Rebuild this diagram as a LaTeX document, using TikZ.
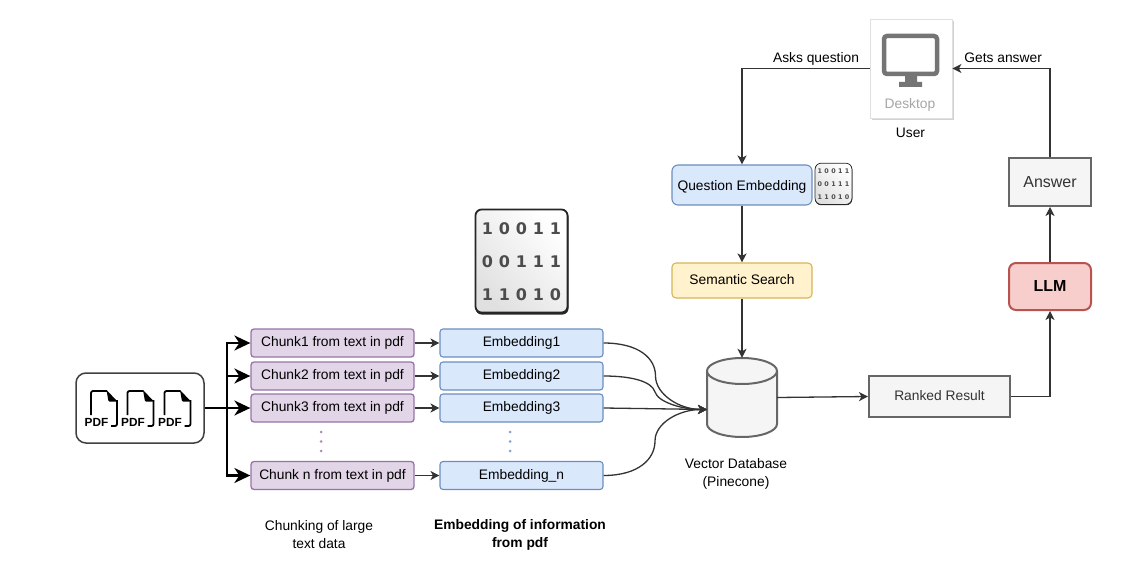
\documentclass[tikz,border=0pt]{standalone}
\usepackage{fontspec}
\setmainfont{Liberation Sans}
\newfontfamily\binfont[LetterSpace=36.6,BoldFont={DejaVu Sans Bold}]{DejaVu Sans}
\usetikzlibrary{arrows.meta,positioning,shadows}

\definecolor{chunkfill}{HTML}{E1D5E7}
\definecolor{chunkline}{HTML}{9673A6}
\definecolor{embfill}{HTML}{DAE8FC}
\definecolor{embline}{HTML}{6C8EBF}
\definecolor{searchfill}{HTML}{FFF2CC}
\definecolor{searchline}{HTML}{D6B656}
\definecolor{llmfill}{HTML}{F8CECC}
\definecolor{llmline}{HTML}{B85450}
\definecolor{grayfill}{HTML}{F5F5F5}
\definecolor{grayline}{HTML}{666666}

\tikzset{
	base/.style={font=\fontsize{13.8}{18}\selectfont,text=black,inner sep=0pt},
	chunkbox/.style={base,draw=chunkline,fill=chunkfill,line width=1.3pt,rounded corners=3pt,minimum width=163pt,minimum height=28pt},
	embbox/.style={base,draw=embline,fill=embfill,line width=1.1pt,rounded corners=3pt,minimum width=163pt,minimum height=28pt},
	plainbox/.style={base,draw=grayline,fill=grayfill,text=black!80,line width=2pt},
	linklabel/.style={base,text height=10pt,text depth=3pt},
	link/.style={line width=1.3pt,draw=black!80,-{Stealth[length=9pt,width=9pt,inset=2.5pt]}},
	fatlink/.style={line width=2.2pt,draw=black,-{Stealth[length=16pt,width=15pt,inset=5pt]}},
	bindigits/.style={font=\binfont\bfseries\fontsize{16}{16}\selectfont,text=black!70,inner sep=0pt,transform shape},
	pics/binicon/.style={code={
		\fill[black!85,rounded corners=6pt] (-46,-51) rectangle (47,53);
		\shade[left color=white,right color=black!12,shading angle=-45,draw=black!85,line width=#1*1.8pt,rounded corners=6pt] (-46,-52) rectangle (46,51);
		\node[bindigits] (-rowa) at (0,-32.5) {10011};
		\node[bindigits] (-rowb) at (0,0.5) {00111};
		\node[bindigits] (-rowc) at (0,33) {11010};
	}},
	pics/pdficon/.style={code={
		\draw[line width=1.8pt,rounded corners=2pt] (0,24) -- (0,0) -- (16,0);
		\fill[rounded corners=1pt] (15.5,-1) -- (26.5,10.5) -- (17.5,10.5) -- cycle;
		\draw[line width=1.8pt,rounded corners=2pt] (26,9) -- (26,35) -- (20,35);
		\node[font=\bfseries\fontsize{11.8}{12}\selectfont,inner sep=0pt] (-tag) at (5.5,31) {PDF};
	}}
}

\begin{document}
\begin{tikzpicture}[x=1pt,y=-1pt]
	\useasboundingbox (0,0) rectangle (1122,575);

	% source documents
	\node[base,draw=black!75,fill=white,line width=1.5pt,rounded corners=10pt,minimum width=128pt,minimum height=70pt] (pdfbox) at (140,408) {};
	\pic (pdfa) at (91,391) {pdficon};
	\pic (pdfb) at (127.5,391) {pdficon};
	\pic (pdfc) at (164.5,391) {pdficon};
	\coordinate (split) at (227,408);

	% chunks
	\node[chunkbox] (chunk1) at (332.5,343) {Chunk1 from text in pdf};
	\node[chunkbox] (chunk2) at (332.5,376) {Chunk2 from text in pdf};
	\node[chunkbox] (chunk3) at (332.5,408) {Chunk3 from text in pdf};
	\node[chunkbox] (chunkn) at (332.5,475.5) {Chunk n from text in pdf};
	\fill[chunkline!80] (321,432) circle (1.5pt) (321,441.5) circle (1.5pt) (321,451) circle (1.5pt);
	\node[base,align=center] (chunklabel) at (319,535) {Chunking of large\\text data};

	% embeddings
	\node[embbox] (emb1) at (521.5,343) {Embedding1};
	\node[embbox] (emb2) at (521.5,376) {Embedding2};
	\node[embbox] (emb3) at (521.5,408) {Embedding3};
	\node[embbox] (embn) at (521.5,475.5) {Embedding\_n};
	\fill[embline!80] (510,432) circle (1.5pt) (510,441.5) circle (1.5pt) (510,451) circle (1.5pt);
	\node[base,align=center,font=\bfseries\fontsize{13.8}{18}\selectfont] (emblabel) at (520,535) {Embedding of information\\from pdf};
	\pic (bigicon) at (521.5,261.5) {binicon=1};

	% query side
	\node[embbox,minimum width=140pt,minimum height=40pt,rounded corners=6pt,text height=13pt] (qemb) at (742,185) {Question Embedding};
	\pic[scale=.4] (smallicon) at (833.5,184) {binicon=.4};
	\node[base,draw=searchline,fill=searchfill,line width=1.1pt,rounded corners=4pt,minimum width=140pt,minimum height=35pt,text depth=2pt] (search) at (742,280.5) {Semantic Search};

	% database
	\node[base,minimum width=70pt,minimum height=79pt] (db) at (742,397.5) {};
	\draw[draw=grayline,fill=grayfill,line width=2pt] (707,371) -- (707,424) arc[start angle=180,end angle=360,x radius=35pt,y radius=13pt] -- (777,371);
	\draw[draw=grayline,fill=grayfill,line width=2pt] (742,371) ellipse[x radius=35pt,y radius=13pt];
	\coordinate (dbin) at (707,409.5);
	\node[base,align=center] (dblabel) at (736,474) {Vector Database\\(Pinecone)};

	% answer side
	\node[plainbox,minimum width=141pt,minimum height=41pt,text depth=2pt] (ranked) at (939.5,396.5) {Ranked Result};
	\node[base,draw=llmline,fill=llmfill,line width=2pt,rounded corners=7pt,minimum width=82pt,minimum height=47pt,text depth=2pt,font=\bfseries\fontsize{16}{18}\selectfont] (llm) at (1050,286.5) {LLM};
	\node[plainbox,minimum width=82pt,minimum height=48pt,font=\fontsize{16}{18}\selectfont] (answer) at (1050,182) {Answer};

	% user
	\node[base,draw=black!12,fill=white,line width=.8pt,drop shadow={shadow xshift=1.5pt,shadow yshift=-2pt,fill=black!18,opacity=1},minimum width=82pt,minimum height=99pt] (desktop) at (911,68.5) {};
	\draw[black!54,line width=4.5pt,rounded corners=3pt] (884,36) rectangle (937,74);
	\fill[black!54] (905,75) rectangle (917,82) (899,82) rectangle (922,87);
	\node[base,text=black!35] (desktoptext) at (910,104.5) {Desktop};
	\node[base] (userlabel) at (910.5,132.5) {User};

	% connectors
	\draw[line width=2.2pt] (pdfbox.east) -- (split);
	\draw[fatlink] (split) |- (chunk1.west);
	\draw[fatlink] (split) |- (chunk2.west);
	\draw[fatlink] (split) -- (chunk3.west);
	\draw[fatlink] (split) |- (chunkn.west);

	\draw[link] (chunk1.east) -- (emb1.west);
	\draw[link] (chunk2.east) -- (emb2.west);
	\draw[link] (chunk3.east) -- (emb3.west);
	\draw[link] (chunkn.east) -- (embn.west);

	\coordinate (bend1) at (655.5,376);
	\coordinate (bend2) at (655,392);
	\coordinate (bendn) at (655,441);
	\draw[link] (emb1.east) .. controls +(35,0) and +(0,-18) .. (bend1) .. controls +(0,18) and +(-28,0) .. (dbin);
	\draw[link] (emb2.east) .. controls +(30,0) and +(-3,-10) .. (bend2) .. controls +(3,10) and +(-25,0) .. (dbin);
	\draw[link] (emb3.east) -- (dbin);
	\draw[link] (embn.east) .. controls +(35,0) and +(0,18) .. (bendn) .. controls +(0,-18) and +(-28,0) .. (dbin);

	\draw[link] (desktop.west) -| (qemb.north) node[pos=.21,above=2pt,linklabel] (asks) {Asks question};
	\draw[link] (qemb.south) -- (search.north);
	\draw[link] (search.south) -- (db.north);
	\draw[link] (db.east) -- (ranked.west);
	\draw[link] (ranked.east) -| (llm.south);
	\draw[link] (llm.north) -- (answer.south);
	\draw[link] (answer.north) |- (desktop.east) node[pos=.74,above=2pt,linklabel] (gets) {Gets answer};
\end{tikzpicture}
\end{document}
